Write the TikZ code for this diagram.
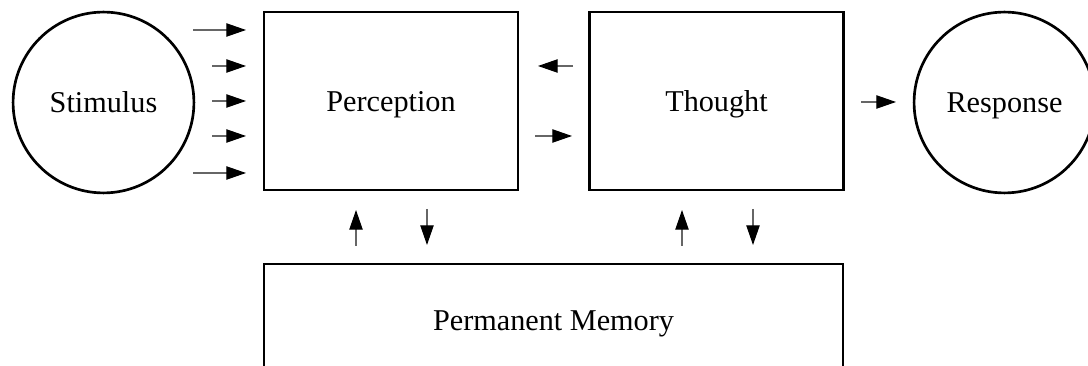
\documentclass[tikz,border=0pt]{standalone}
\usepackage{fontspec}
\setmainfont{Liberation Serif}
\usetikzlibrary{arrows.meta}

\begin{document}
\begin{tikzpicture}[x=0.025cm,y=-0.025cm,
    >={Triangle[length=14pt,width=9.5pt,color=black]},
    every node/.style={font=\fontsize{21.5}{25}\selectfont,text height=19pt,text depth=4.7pt},
    stage/.style={draw,line width=1.9pt,minimum width=6.35cm,minimum height=4.45cm,inner sep=0pt},
    ends/.style={draw,circle,line width=1.9pt,minimum size=4.52cm,inner sep=0pt},
    flow/.style={->,draw=black!60,line width=0.8pt}]
    \clip (0,0) rectangle (1088,366);
    \node[ends] (S) at (103.5,102.5) {Stimulus};
    \node[stage] (P) at (391,101) {Perception};
    \node[stage] (T) at (716.5,101) {Thought};
    \node[ends] (R) at (1004.5,102.5) {Response};
    \node[draw,line width=1.9pt,minimum width=14.475cm,minimum height=2.8cm,inner sep=0pt] (M) at (553.5,320) {Permanent Memory};
    % inputs to perception
    \foreach \y/\x in {30/193,66/212,101/212,136/212,173/193} {
        \coordinate (in0) at (\x,\y);
        \coordinate (in1) at (246,\y);
        \draw[flow] (in0) -- (in1);
    }
    % perception <-> thought
    \coordinate (pt0) at (573,66);
    \coordinate (pt1) at (538,66);
    \draw[flow] (pt0) -- (pt1);
    \coordinate (tp0) at (535,136);
    \coordinate (tp1) at (572,136);
    \draw[flow] (tp0) -- (tp1);
    % thought to response
    \coordinate (tr0) at (861,102);
    \coordinate (tr1) at (896,102);
    \draw[flow] (tr0) -- (tr1);
    % memory links
    \foreach \x in {356,682} {
        \coordinate (up0) at (\x,246);
        \coordinate (up1) at (\x,210);
        \draw[flow] (up0) -- (up1);
    }
    \foreach \x in {427,753} {
        \coordinate (dn0) at (\x,209);
        \coordinate (dn1) at (\x,245);
        \draw[flow] (dn0) -- (dn1);
    }
\end{tikzpicture}
\end{document}
